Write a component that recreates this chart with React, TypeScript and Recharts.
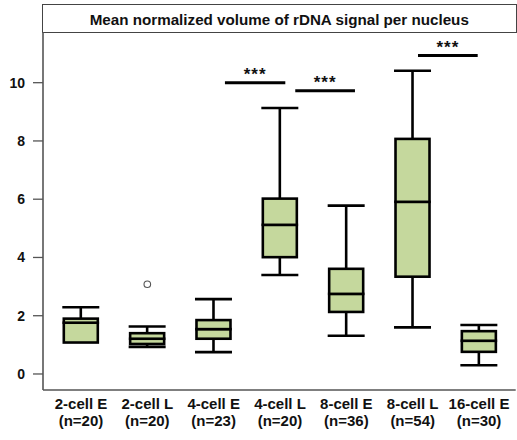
import React from "react";
import {
  ComposedChart,
  Bar,
  XAxis,
  YAxis,
  ReferenceLine,
  ReferenceDot,
} from "recharts";

// ---- data ----
const categories = ["2-cell E", "2-cell L", "4-cell E", "4-cell L", "8-cell E", "8-cell L", "16-cell E"];
const nCounts = [20, 20, 23, 20, 36, 54, 30];
const whiskerLow = [1.08, 0.93, 0.75, 3.4, 1.31, 1.6, 0.3];
const q1 = [1.08, 1.03, 1.21, 4.01, 2.13, 3.34, 0.76];
const median = [1.76, 1.21, 1.54, 5.12, 2.75, 5.91, 1.14];
const q3 = [1.9, 1.4, 1.85, 6.02, 3.61, 8.07, 1.47];
const whiskerHigh = [2.29, 1.63, 2.57, 9.13, 5.78, 10.41, 1.68];
const outlierCategories = ["2-cell L"];
const outlierValues = [3.08];
const sigFrom = [2.17, 3.23, 5.08];
const sigTo = [3.08, 4.13, 5.98];
const sigLevel = [10.0, 9.72, 10.93];
const sigLabels = ["***", "***", "***"];
const yTicks = [0, 2, 4, 6, 8, 10];
const title = "Mean normalized volume of rDNA signal per nucleus";

// ---- derived table for stacked box construction ----
const tableData = categories.map((name, i) => ({
  name,
  idx: i,
  base: whiskerLow[i],
  lowW: q1[i] - whiskerLow[i],
  boxLow: median[i] - q1[i],
  boxHigh: q3[i] - median[i],
  highW: whiskerHigh[i] - q3[i],
}));

const FONT = "'Liberation Sans', Arial, Helvetica, sans-serif";
const FILL = "#c5d89d";
const SW = 2.6;

const LowWhisker = (p: any) => {
  const { x, y, width, height } = p;
  if (!height || height <= 0.5) return <g />;
  const cx = x + width / 2;
  return (
    <g>
      <line x1={cx} x2={cx} y1={y} y2={y + height} stroke="#000" strokeWidth={SW} />
      <line x1={x - 1.5} x2={x + width + 1.5} y1={y + height} y2={y + height} stroke="#000" strokeWidth={SW} />
    </g>
  );
};

const HighWhisker = (p: any) => {
  const { x, y, width, height } = p;
  if (!height || height <= 0.5) return <g />;
  const cx = x + width / 2;
  return (
    <g>
      <line x1={cx} x2={cx} y1={y} y2={y + height} stroke="#000" strokeWidth={SW} />
      <line x1={x - 1.5} x2={x + width + 1.5} y1={y} y2={y} stroke="#000" strokeWidth={SW} />
    </g>
  );
};

const BoxPart = (p: any) => {
  const { x, y, width, height } = p;
  if (height == null || height < 0) return <g />;
  return <rect x={x} y={y} width={width} height={height} fill={FILL} stroke="#000" strokeWidth={SW} />;
};

const XTick = (p: any) => {
  const { x, y, payload, index } = p;
  return (
    <text x={x} y={y} textAnchor="middle" fontFamily={FONT} fontWeight="bold" fontSize={15} fill="#111">
      <tspan x={x} dy={19}>{payload.value}</tspan>
      <tspan x={x} dy={16.5}>{`(n=${nCounts[index]})`}</tspan>
    </text>
  );
};

const Stars = (label: string) => (p: any) => (
  <text
    x={p.cx}
    y={p.cy - 3}
    textAnchor="middle"
    fontFamily={FONT}
    fontWeight="bold"
    fontSize={17}
    letterSpacing={1}
    fill="#111"
  >
    {label}
  </text>
);

const Outlier = (p: any) => (
  <circle cx={p.cx} cy={p.cy} r={3.3} fill="#fff" stroke="#555" strokeWidth={1.1} />
);

const Y_DOMAIN: [number, number] = [-0.55, 11.74];
const X_PAD = { left: 4.8, right: 3.5 };
// numeric overlay axis: category centres sit half a band inside the padded range
const HALF_BAND = (517 - 1.3 - 43 - X_PAD.left - X_PAD.right) / categories.length / 2;
const NUM_PAD = { left: X_PAD.left + HALF_BAND, right: X_PAD.right + HALF_BAND };

export default function App() {
  return (
    <div style={{ position: "absolute", left: 0, top: 0, width: 517, height: 440, background: "#fff" }}>
      <div
        style={{
          position: "absolute",
          left: 42,
          top: 4,
          width: 474.5,
          height: 28.5,
          boxSizing: "border-box",
          border: "1.6px solid #444",
          display: "flex",
          alignItems: "center",
          justifyContent: "center",
          fontFamily: FONT,
          fontWeight: "bold",
          fontSize: 15.2,
          color: "#111",
          paddingTop: 2,
          whiteSpace: "nowrap",
        }}
      >
        {title}
      </div>
      <ComposedChart
        width={517}
        height={440}
        data={tableData}
        margin={{ top: 32, right: 1.3, bottom: 0, left: 0 }}
        barCategoryGap={0}
      >
        <XAxis
          dataKey="name"
          type="category"
          interval={0}
          padding={X_PAD}
          height={50}
          tickSize={0}
          tickMargin={0}
          tickLine={false}
          axisLine={{ stroke: "#555", strokeWidth: 1.6 }}
          tick={<XTick />}
        />
        <XAxis
          xAxisId="num"
          dataKey="idx"
          type="number"
          domain={[0, categories.length - 1]}
          padding={NUM_PAD}
          hide
          allowDataOverflow
        />
        <YAxis
          type="number"
          domain={Y_DOMAIN}
          ticks={yTicks}
          allowDataOverflow
          width={43}
          tickSize={10}
          tickMargin={8}
          tickLine={{ stroke: "#555", strokeWidth: 1.3 }}
          axisLine={{ stroke: "#555", strokeWidth: 1.6 }}
          tick={{ fontSize: 14, fontWeight: "bold", fill: "#111", fontFamily: FONT }}
        />
        <YAxis
          yAxisId="r"
          orientation="right"
          type="number"
          domain={Y_DOMAIN}
          allowDataOverflow
          width={0}
          tick={false}
          tickLine={false}
          axisLine={{ stroke: "#aaa", strokeWidth: 1.2 }}
        />
        <Bar dataKey="base" stackId="box" barSize={34} fill="none" isAnimationActive={false} shape={() => <g />} />
        <Bar dataKey="lowW" stackId="box" barSize={34} isAnimationActive={false} shape={<LowWhisker />} />
        <Bar dataKey="boxLow" stackId="box" barSize={34} isAnimationActive={false} shape={<BoxPart />} />
        <Bar dataKey="boxHigh" stackId="box" barSize={34} isAnimationActive={false} shape={<BoxPart />} />
        <Bar dataKey="highW" stackId="box" barSize={34} isAnimationActive={false} shape={<HighWhisker />} />
        {outlierCategories.map((c, i) => (
          <ReferenceDot key={`o${i}`} x={c} y={outlierValues[i]} r={3.3} shape={<Outlier />} />
        ))}
        {sigFrom.map((from, i) => (
          <ReferenceLine
            key={`s${i}`}
            xAxisId="num"
            segment={[
              { x: from, y: sigLevel[i] },
              { x: sigTo[i], y: sigLevel[i] },
            ]}
            stroke="#000"
            strokeWidth={3}
          />
        ))}
        {sigFrom.map((from, i) => (
          <ReferenceDot
            key={`l${i}`}
            xAxisId="num"
            x={(from + sigTo[i]) / 2}
            y={sigLevel[i]}
            r={0}
            shape={Stars(sigLabels[i])}
          />
        ))}
      </ComposedChart>
    </div>
  );
}
